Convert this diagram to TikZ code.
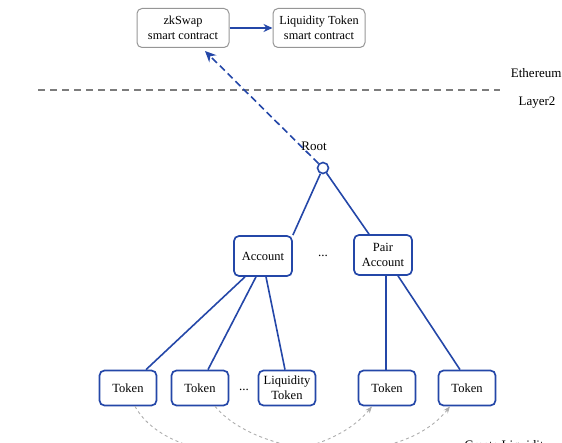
\documentclass[tikz,border=0pt]{standalone}
\usepackage{fontspec}
\setmainfont{Liberation Serif}
\usetikzlibrary{arrows.meta}
\definecolor{bl}{HTML}{2447A8}
\definecolor{gr}{HTML}{8A8A8A}
\tikzset{
  topbox/.style={draw=gr!90, rounded corners=5pt, line width=1pt, minimum width=92pt, minimum height=39pt, align=center, font=\fontsize{12.3}{14.5}\selectfont, inner sep=1pt},
  tbox/.style={draw=bl, rounded corners=5pt, line width=1.7pt, minimum width=57pt, minimum height=35pt, align=center, font=\fontsize{12.5}{15}\selectfont, inner sep=1pt},
  abox/.style={tbox, minimum width=58pt, minimum height=40pt},
  edge/.style={draw=bl, line width=1.6pt},
  lbl/.style={font=\fontsize{13}{14}\selectfont},
  curv/.style={draw=gr!70, dashed, line width=0.9pt, -{Stealth[length=7pt]}},
}
\begin{document}
\begin{tikzpicture}[x=1pt,y=-1pt]
\useasboundingbox (0,0) rectangle (562,443);
\clip (0,0) rectangle (562,443);
\node[topbox] (zk) at (183,28) {zkSwap\\smart contract};
\node[topbox] (lt) at (319,28) {Liquidity Token\\smart contract};
\draw[edge, -{Stealth[length=9pt,width=8pt]}] (zk) -- (lt);
\coordinate (dl) at (38,90);
\coordinate (dr) at (500,90);
\draw[gr!90!black, line width=1.1pt, dash pattern=on 7pt off 5pt] (dl) -- (dr);
\node[lbl, anchor=east] (eth) at (565,73) {Ethereum};
\node[lbl] (l2) at (537,103) {Layer2};
\node[draw=bl, circle, line width=1.6pt, minimum size=11pt, inner sep=0pt, fill=white] (root) at (323,168) {};
\node[lbl] (rootl) at (314,146) {Root};
\draw[edge, dash pattern=on 7pt off 4pt, -{Stealth[length=11pt,width=10pt]}] (root) -- (205,51);
\node[abox] (acc) at (263,256) {Account};
\node[lbl] (dots1) at (323,256) {...};
\node[abox] (pair) at (383,255) {Pair\\Account};
\draw[edge] (root) -- (acc.north east);
\draw[edge] (root) -- ([xshift=-14pt]pair.north);
\node[tbox] (t1) at (128,388) {Token};
\node[tbox] (t2) at (200,388) {Token};
\node[lbl] (dots2) at (244,390) {...};
\node[tbox] (lq) at (287,388) {Liquidity\\Token};
\node[tbox] (t4) at (387,388) {Token};
\node[tbox] (t5) at (467,388) {Token};
\draw[edge] ([xshift=-18pt]acc.south) -- ([xshift=18pt]t1.north);
\draw[edge] ([xshift=-7pt]acc.south) -- ([xshift=8pt]t2.north);
\draw[edge] ([xshift=3pt]acc.south) -- ([xshift=-2pt]lq.north);
\draw[edge] ([xshift=3pt]pair.south) -- ([xshift=-1pt]t4.north);
\draw[edge] ([xshift=15pt]pair.south) -- ([xshift=-7pt]t5.north);
\draw[curv] ([xshift=7pt]t1.south) .. controls (170,470) and (320,470) .. ([xshift=-15pt]t4.south);
\draw[curv] ([xshift=15pt]t2.south) .. controls (260,460) and (400,470) .. ([xshift=-17pt]t5.south);
\node[lbl, anchor=west] (cl) at (461,446) {Create Liquidity};
\end{tikzpicture}
\end{document}
